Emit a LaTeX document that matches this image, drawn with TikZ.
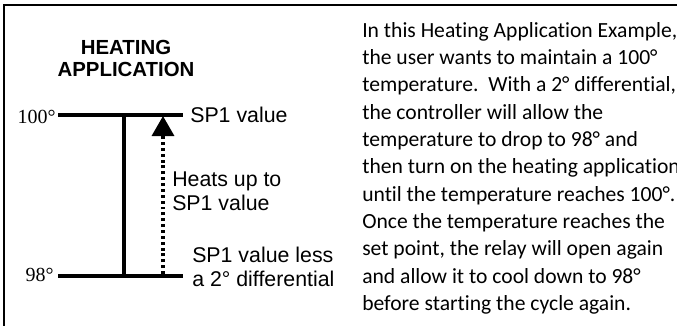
\documentclass[tikz,border=0pt]{standalone}
\usepackage{fontspec}
\setmainfont{Liberation Sans}
\newfontfamily\notefont[Ligatures=NoCommon]{Carlito}
\newfontfamily\degfont{Liberation Serif}
\usepackage{tikz}
\usetikzlibrary{
  positioning,
  arrows.meta,
  calc
}

\begin{document}
\begin{tikzpicture}[
  x=0.75pt, y=-0.75pt,
  frame/.style={line width=1.5pt},
  bar/.style={line width=2.5pt},
  lbl/.style={font=\fontsize{16}{17.8}\selectfont, align=left, inner sep=0pt},
  deg/.style={font=\degfont\fontsize{15}{18}\selectfont, inner sep=0pt},
  heat/.style={-{Triangle[length=15pt, width=16.5pt]}, line width=2.5pt,
               dash pattern=on 2.2pt off 2.2pt}
]
  \useasboundingbox (0,0) rectangle (677,325);
  \draw[frame] (4,340) -- (4,5) -- (700,5);

  \node[font=\bfseries\fontsize{15.3}{16.5}\selectfont, align=center, inner sep=0pt]
    (title) at (126,58.5) {HEATING\\APPLICATION};

  % set point and differential levels
  \coordinate (hiL) at (58,115);
  \coordinate (hiR) at (183,115);
  \coordinate (loL) at (58,276);
  \coordinate (loR) at (183,276);
  \coordinate (hiMid) at (124,115);
  \coordinate (loMid) at (124,276);
  \coordinate (heatStart) at (163,274);
  \coordinate (heatTip) at (163,116);

  \node[deg, anchor=base east] (hi) at (56,123) {100°};
  \node[deg, anchor=base east] (lo) at (54,281) {98°};

  \draw[bar] (hiL) -- (hiR);
  \draw[bar] (loL) -- (loR);
  \draw[bar] (hiMid) -- (loMid);
  \draw[heat] (heatStart) -- (heatTip);

  \node[lbl, anchor=base west] (sp) at (190,122) {SP1 value};
  \node[lbl, anchor=north west] (heats) at (172,172) {Heats up to\\SP1 value};
  \node[lbl, anchor=north west] (less) at (192,247) {SP1 value less\\a 2° differential};

  \node[font=\notefont\fontsize{16.2}{20.5}\selectfont, align=left, inner sep=0pt,
        anchor=north west] (note) at (362,22) {
    In this Heating Application Example,\\
    the user wants to maintain a 100°\\
    temperature.\ \ With a 2° differential,\\
    the controller will allow the\\
    temperature to drop to 98° and\\
    then turn on the heating application\\
    until the temperature reaches 100°.\\
    Once the temperature reaches the\\
    set point, the relay will open again\\
    and allow it to cool down to 98°\\
    before starting the cycle again.
  };
\end{tikzpicture}
\end{document}
